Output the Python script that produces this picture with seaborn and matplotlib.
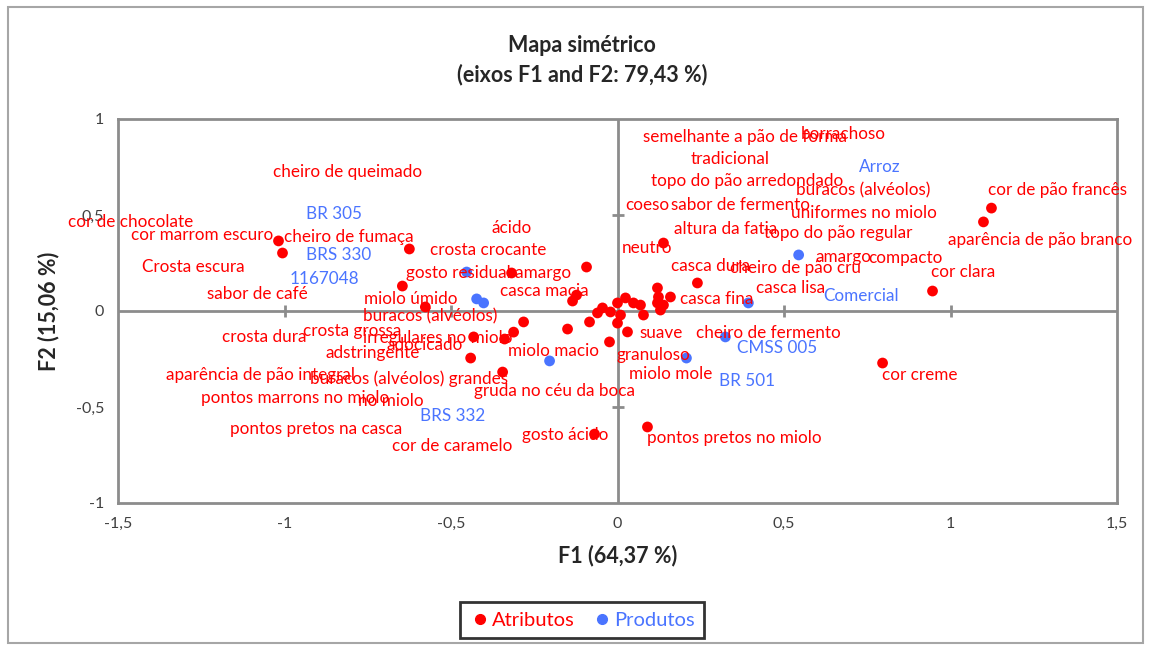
import matplotlib
matplotlib.use('Agg')
import matplotlib.pyplot as plt
import matplotlib.patches as mpatches
from matplotlib.lines import Line2D
import pandas as pd
import seaborn as sns

# ── Data ──────────────────────────────────────────────────────────────────────
# attribute points (F1, F2)
attr_f1 = [1.123, 1.099, 0.946, 0.796, -1.018, -1.006, -0.625, -0.646, -0.318,
           -0.093, -0.123, -0.135, -0.577, -0.282, -0.312, -0.432, -0.339, -0.441,
           -0.345, -0.150, -0.084, -0.024, -0.069, 0.090, 0.030, 0.000, 0.138,
           0.240, -0.060, -0.045, -0.021, 0.000, 0.024, 0.009, 0.048, 0.069,
           0.078, 0.120, 0.123, 0.120, 0.129, 0.159, 0.138]
attr_f2 = [0.536, 0.464, 0.104, -0.271, 0.365, 0.302, 0.323, 0.130, 0.198,
           0.229, 0.083, 0.052, 0.021, -0.057, -0.110, -0.135, -0.146, -0.245,
           -0.318, -0.094, -0.057, -0.161, -0.641, -0.604, -0.109, -0.063, 0.354,
           0.146, -0.010, 0.016, -0.005, 0.042, 0.068, -0.021, 0.042, 0.031,
           -0.021, 0.120, 0.073, 0.042, 0.005, 0.073, 0.031]

# product points (F1, F2)
prod_f1 = [0.544, 0.393, 0.324, 0.207, -0.204, -0.453, -0.423, -0.402]
prod_f2 = [0.292, 0.042, -0.135, -0.245, -0.260, 0.203, 0.063, 0.042]

# attribute labels and where the chart placed them (F1, F2)
attr_labels = [
    'semelhante a pão de forma', 'borrachoso', 'tradicional', 'topo do pão arredondado',
    'buracos (alvéolos)', 'cor de pão francês', 'uniformes no miolo', 'coeso',
    'sabor de fermento', 'aparência de pão branco', 'altura da fatia', 'topo do pão regular',
    'cheiro de queimado', 'cor de chocolate', 'cor marrom escuro', 'cheiro de fumaça',
    'ácido', 'crosta crocante', 'neutro', 'amargo', 'compacto', 'Crosta escura',
    'gosto residual amargo', 'cor clara', 'casca dura', 'cheiro de pão cru',
    'casca macia', 'casca lisa', 'sabor de café', 'miolo úmido', 'casca fina',
    'buracos (alvéolos)', 'crosta dura', 'crosta grossa', 'irregulares no miolo',
    'suave', 'cheiro de fermento', 'adstringente', 'adocicado', 'miolo macio',
    'granuloso', 'aparência de pão integral', 'buracos (alvéolos) grandes', 'miolo mole',
    'pontos marrons no miolo', 'no miolo', 'gruda no céu da boca', 'pontos pretos na casca',
    'gosto ácido', 'cor de caramelo', 'pontos pretos no miolo', 'cor creme']
attr_lab_f1 = [0.384, 0.679, 0.339, 0.390, 0.739, 1.321, 0.739, 0.090,
               0.369, 1.270, 0.324, 0.664, -0.811, -1.462, -1.246, -0.808,
               -0.318, -0.387, 0.090, 0.679, 0.865, -1.273, -0.387, 1.039,
               0.279, 0.535, -0.219, 0.520, -1.081, -0.622, 0.297, -0.562,
               -1.060, -0.796, -0.541, 0.132, 0.453, -0.736, -0.580, -0.192,
               0.108, -1.072, -0.625, 0.159, -0.967, -0.682, -0.189, -0.904,
               -0.156, -0.495, 0.351, 0.907]
attr_lab_f2 = [0.906, 0.922, 0.792, 0.677, 0.630, 0.630, 0.510, 0.552,
               0.552, 0.370, 0.427, 0.406, 0.724, 0.464, 0.396, 0.385,
               0.432, 0.318, 0.328, 0.281, 0.276, 0.229, 0.198, 0.203,
               0.234, 0.224, 0.104, 0.120, 0.089, 0.063, 0.063, -0.026,
               -0.135, -0.104, -0.141, -0.115, -0.115, -0.219, -0.177, -0.208,
               -0.229, -0.333, -0.354, -0.328, -0.453, -0.469, -0.417, -0.615,
               -0.646, -0.703, -0.661, -0.333]

prod_labels = ['BR 305', 'BRS 330', '1167048', 'Arroz', 'Comercial', 'CMSS 005', 'BR 501', 'BRS 332']
prod_lab_f1 = [-0.850, -0.838, -0.880, 0.787, 0.730, 0.480, 0.390, -0.495]
prod_lab_f2 = [0.505, 0.292, 0.167, 0.750, 0.078, -0.193, -0.365, -0.547]

x_ticks = [-1.5, -1, -0.5, 0, 0.5, 1, 1.5]
y_ticks = [-1, -0.5, 0, 0.5, 1]

RED = '#FF0000'
BLUE = '#4A74FF'
GREY = '#8C8C8C'

df = pd.DataFrame({
    'F1': attr_f1 + prod_f1,
    'F2': attr_f2 + prod_f2,
    'grupo': ['Atributos'] * len(attr_f1) + ['Produtos'] * len(prod_f1),
})

# ── Chart ─────────────────────────────────────────────────────────────────────
sns.set_style('white')
plt.rcParams['font.family'] = ['Lato', 'DejaVu Sans']

fig = plt.figure(figsize=(11.5, 6.5), dpi=100)
ax = fig.add_axes([118 / 1150, 1 - 503 / 650, 999 / 1150, 384 / 650])

ax.axhline(0, color=GREY, lw=2, zorder=1)
ax.axvline(0, color=GREY, lw=2, zorder=1)
ax.plot([t for t in x_ticks if abs(t) not in (0, 1.5)], [0] * 4, ls='none',
        marker='|', ms=9, mew=2, color=GREY, zorder=1)
ax.plot([0, 0], [-0.5, 0.5], ls='none', marker='_', ms=9, mew=2, color=GREY, zorder=1)

sns.scatterplot(data=df, x='F1', y='F2', hue='grupo',
                palette={'Atributos': RED, 'Produtos': BLUE},
                s=60, edgecolor='none', legend=False, ax=ax, zorder=3)

for name, lx, ly in zip(attr_labels, attr_lab_f1, attr_lab_f2):
    ax.text(lx, ly, name, color=RED, fontsize=12.3, ha='center', va='center',
            clip_on=False, zorder=4)
for name, lx, ly in zip(prod_labels, prod_lab_f1, prod_lab_f2):
    ax.text(lx, ly, name, color=BLUE, fontsize=12.3, ha='center', va='center',
            clip_on=False, zorder=4)

ax.set_xlim(-1.5, 1.5)
ax.set_ylim(-1, 1)
ax.set_xticks(x_ticks)
ax.set_yticks(y_ticks)
ax.set_xticklabels([f'{t:g}'.replace('.', ',') for t in x_ticks])
ax.set_yticklabels([f'{t:g}'.replace('.', ',') for t in y_ticks])
ax.tick_params(length=0, labelsize=11.5, colors='#404040', pad=10)
for sp in ax.spines.values():
    sp.set_color(GREY)
    sp.set_linewidth(2)

ax.set_xlabel('F1 (64,37 %)', fontsize=15.5, fontweight='bold', labelpad=10)
ax.set_ylabel('F2 (15,06 %)', fontsize=15.5, fontweight='bold', labelpad=12)

fig.text(582 / 1150, 1 - 46 / 650, 'Mapa simétrico', ha='center', va='center',
         fontsize=15.5, fontweight='bold')
fig.text(582 / 1150, 1 - 75 / 650, '(eixos F1 and F2: 79,43 %)', ha='center', va='center',
         fontsize=15.5, fontweight='bold')

handles = [Line2D([], [], ls='none', marker='o', color=RED, ms=7),
           Line2D([], [], ls='none', marker='o', color=BLUE, ms=7)]
leg = fig.legend(handles, ['Atributos', 'Produtos'], loc='center',
                 bbox_to_anchor=(582 / 1150, 1 - 620 / 650), ncol=2, frameon=True,
                 fancybox=False, fontsize=14.5, handletextpad=0.05, columnspacing=0.8,
                 labelcolor=[RED, BLUE], handlelength=1.1, borderpad=0.45)
leg.get_frame().set_edgecolor('black')
leg.get_frame().set_linewidth(2)

fig.patches.append(mpatches.Rectangle((8 / 1150, 7 / 650), 1135 / 1150, 636 / 650,
                                      transform=fig.transFigure, fill=False,
                                      edgecolor='#A6A6A6', lw=1.5))

plt.savefig('out.png', dpi=100)
plt.close(fig)
